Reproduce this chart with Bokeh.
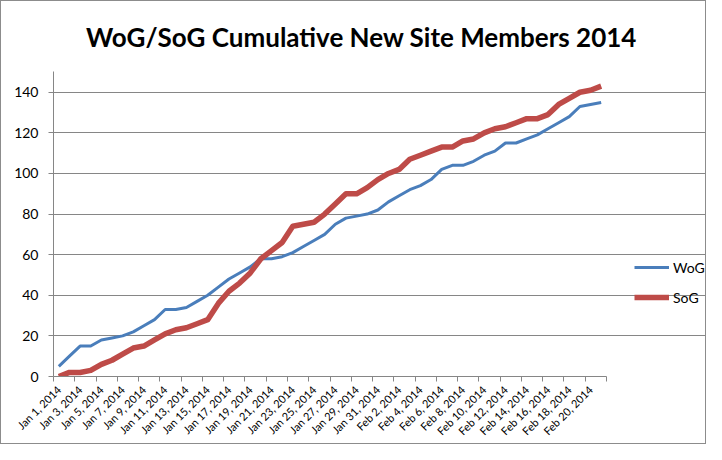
import math
from bokeh.plotting import figure
from bokeh.models import ColumnDataSource, FixedTicker, Legend, LegendItem, Range1d, Label
from bokeh.embed import file_html
from bokeh.resources import INLINE

# ---- data ----
dates = ([f"Jan {d}, 2014" for d in range(1, 32)] +
         [f"Feb {d}, 2014" for d in range(1, 22)])
wog = [5, 10, 15, 15, 18, 19, 20, 22, 25, 28, 33, 33, 34, 37, 40, 44, 48, 51, 54, 58,
       58, 59, 61, 64, 67, 70, 75, 78, 79, 80, 82, 86, 89, 92, 94, 97, 102, 104, 104, 106,
       109, 111, 115, 115, 117, 119, 122, 125, 128, 133, 134, 135]
sog = [0, 2, 2, 3, 6, 8, 11, 14, 15, 18, 21, 23, 24, 26, 28, 36, 42, 46, 51, 58,
       62, 66, 74, 75, 76, 80, 85, 90, 90, 93, 97, 100, 102, 107, 109, 111, 113, 113, 116, 117,
       120, 122, 123, 125, 127, 127, 129, 134, 137, 140, 141, 143]
y_ticks = [0, 20, 40, 60, 80, 100, 120, 140]
y_max = 150
title_text = "WoG/SoG Cumulative New Site Members 2014"

idx = list(range(len(dates)))
src = ColumnDataSource(dict(x=idx, date=dates, wog=wog, sog=sog))

GRAY = "#868686"
FONT = "Lato"

W, H = 706, 444
LEFT, RIGHT, TOP, BOTTOM = 52, 2, 0, 68
frame_h = H - TOP - BOTTOM          # 376
px_per_unit = (frame_h - 91) / 140  # value 140 sits at y=91
px_per_cat = 553 / len(dates)
x_end = -0.5 + (W - LEFT - RIGHT) / px_per_cat
y_end = frame_h / px_per_unit
x_bounds = (-0.5, len(dates) - 0.5)

p = figure(width=W, height=H, output_backend="svg", toolbar_location=None,
           x_range=Range1d(-0.5, x_end), y_range=Range1d(0, y_end),
           min_border_left=LEFT, min_border_right=RIGHT, min_border_top=TOP,
           min_border_bottom=BOTTOM)
p.styles = {"border": "1px solid #8c8c8c", "box-sizing": "border-box"}
p.outline_line_color = None
p.background_fill_color = "white"
p.border_fill_color = "white"

title = Label(x=308, y=frame_h - 36, x_units="screen", y_units="screen", text=title_text,
              text_align="center", text_baseline="middle", text_font=FONT,
              text_font_style="bold", text_font_size="26px", text_color="black")
p.add_layout(title)

r_wog = p.line("x", "wog", source=src, line_color="#4A7EBB", line_width=3, line_join="round")
r_sog = p.line("x", "sog", source=src, line_color="#BE4B48", line_width=5.5, line_join="round")

# x axis
xa = p.xaxis[0]
xa.bounds = x_bounds
xa.ticker = FixedTicker(ticks=list(range(0, len(dates), 2)),
                        minor_ticks=[i - 0.5 for i in range(0, len(dates) + 1, 2)])
xa.major_label_overrides = {i: dates[i] for i in range(0, len(dates), 2)}
xa.major_label_orientation = math.pi / 4
xa.major_tick_in = 0
xa.major_tick_out = 0
xa.minor_tick_in = 0
xa.minor_tick_out = 5
xa.minor_tick_line_color = GRAY
xa.axis_line_color = GRAY
xa.major_label_text_font = FONT
xa.major_label_text_font_size = "11px"
xa.major_label_text_color = "black"
xa.major_label_standoff = 6

ya = p.yaxis[0]
ya.bounds = (0, y_max)
ya.ticker = FixedTicker(ticks=y_ticks)
ya.minor_tick_line_color = None
ya.major_tick_in = 0
ya.major_tick_out = 5
ya.major_tick_line_color = GRAY
ya.axis_line_color = GRAY
ya.major_label_text_font = FONT
ya.major_label_text_font_size = "14px"
ya.major_label_text_color = "black"
ya.major_label_standoff = 10

p.xgrid.visible = False
p.ygrid.grid_line_color = GRAY
p.ygrid.ticker = FixedTicker(ticks=y_ticks)
p.ygrid.bounds = x_bounds

legend = Legend(items=[LegendItem(label="WoG", renderers=[r_wog]),
                       LegendItem(label="SoG", renderers=[r_sog])],
                location=(581, frame_h - 307))
legend.border_line_color = None
legend.background_fill_alpha = 0
legend.padding = 0
legend.margin = 0
legend.spacing = 10
legend.glyph_width = 35
legend.glyph_height = 20
legend.label_height = 20
legend.label_standoff = 4
legend.label_text_font = FONT
legend.label_text_font_size = "14px"
legend.label_text_color = "black"
p.add_layout(legend, "center")

open("out.html", "w").write(file_html(p, INLINE))
